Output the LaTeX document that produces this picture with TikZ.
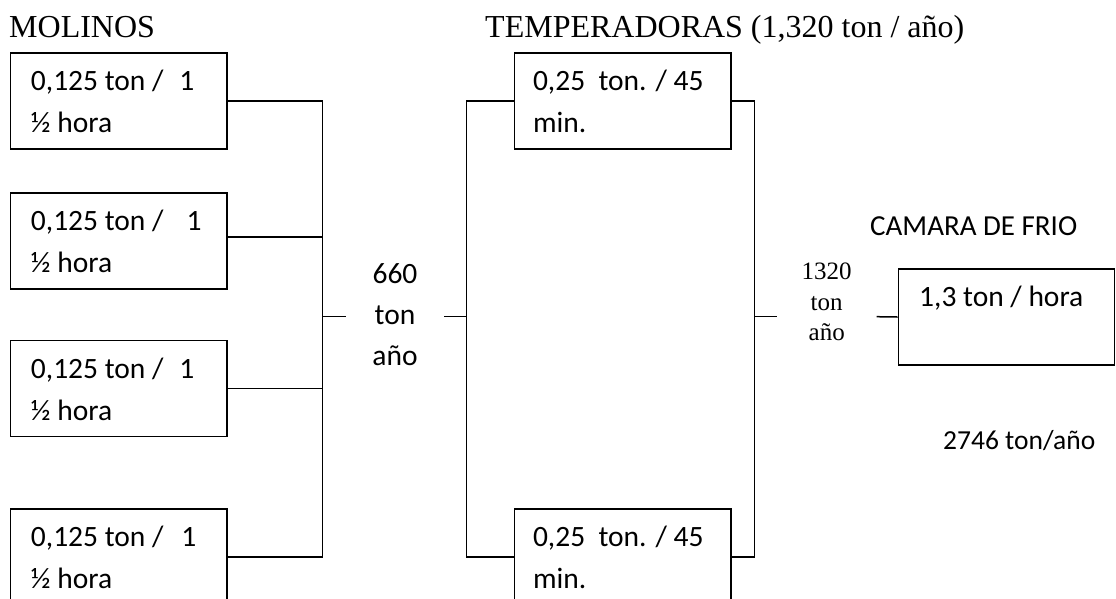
\documentclass[tikz,border=0pt]{standalone}
\usepackage{fontspec}
\setmainfont{Liberation Serif}
\newfontfamily\calib{Carlito}
\begin{document}
\begin{tikzpicture}[x=1pt,y=-1pt,
  box/.style={draw=black,line width=1.5pt,minimum width=216.5pt,minimum height=96pt,inner sep=0pt},
  conn/.style={draw=black,line width=1.5pt},
  cal/.style={font=\calib\fontsize{29.5}{34}\selectfont,inner sep=0pt},
  cals/.style={font=\calib\fontsize{27.5}{34}\selectfont,inner sep=0pt},
  tms/.style={font=\fontsize{32}{38}\selectfont,inner sep=0pt},
  tmsm/.style={font=\fontsize{25}{30}\selectfont,inner sep=0pt}]
\useasboundingbox (0,0) rectangle (1116,598);
% headings
\node[tms,anchor=base west] (hmol) at (9,37) {MOLINOS};
\node[tms,anchor=base west] (htem) at (485,37) {TEMPERADORAS (1,320 ton / año)};
\node[cal,font=\calib\fontsize{29}{34}\selectfont,anchor=base west] (hcam) at (870,235) {CAMARA DE FRIO};
% molinos boxes
\node[box] (M1) at (118.75,101) {};
\node[box] (M2) at (118.75,241) {};
\node[box] (M3) at (118.75,388.7) {};
\node[box] (M4) at (118.75,557) {};
\foreach \m/\g in {M1/16,M2/23,M3/16,M4/18}{
  \node[cal,anchor=base west] (\m a) at ([shift={(21,-10.3)}]\m.west) {0,125 ton /\hspace{\g pt}1};
  \node[cal,anchor=base west] (\m b) at ([shift={(21,31.7)}]\m.west) {½ hora};
}
% temperadoras boxes
\node[box] (T1) at (622.8,101) {};
\node[box] (T2) at (622.8,557) {};
\foreach \t in {T1,T2}{
  \node[cal,anchor=base west] (\t a) at ([shift={(19,-10.3)}]\t.west) {0,25\ \ ton. / 45};
  \node[cal,anchor=base west] (\t b) at ([shift={(19,31.7)}]\t.west) {min.};
}
% camara box
\node[box,minimum width=216pt] (C) at (1006.3,317) {};
\node[cal,anchor=base west] (Ca) at (919,306.7) {1,3 ton / hora};
\node[cals,anchor=base west] (tot) at (943,449) {2746 ton/año};
% flow labels
\node[cal,anchor=base] (l1a) at (395,283.3) {660};
\node[cal,anchor=base] (l1b) at (395,324) {ton};
\node[cal,anchor=base] (l1c) at (395,365) {año};
\node[tmsm,anchor=base] (l2a) at (826.7,279) {1320};
\node[tmsm,anchor=base] (l2b) at (826.7,310) {ton};
\node[tmsm,anchor=base] (l2c) at (826.7,340) {año};
% bus coordinates
\coordinate (bA) at (322.7,316.7);
\coordinate (sA1) at (345.7,316.7);
\coordinate (sA2) at (444,316.7);
\coordinate (bB) at (466.5,316.7);
\coordinate (bC) at (754.7,316.7);
\coordinate (sC1) at (776.7,316.7);
\coordinate (sC2) at (876.7,316.7);
% molinos bus
\draw[conn] (M1.east) -- (M1.east -| bA) -- (M4.east -| bA) -- (M4.east);
\draw[conn] ([yshift=4pt]M2.east) -- ([yshift=4pt]M2.east -| bA);
\draw[conn] (M3.east) -- (M3.east -| bA);
\draw[conn] (bA) -- (sA1);
\draw[conn] (sA2) -- (bB);
% temperadoras bus
\draw[conn] (T1.west) -- (T1.west -| bB) -- (T2.west -| bB) -- (T2.west);
\draw[conn] (T1.east) -- (T1.east -| bC) -- (T2.east -| bC) -- (T2.east);
\draw[conn] (bC) -- (sC1);
\draw[conn] (sC2) -- (C.west);
\end{tikzpicture}
\end{document}
